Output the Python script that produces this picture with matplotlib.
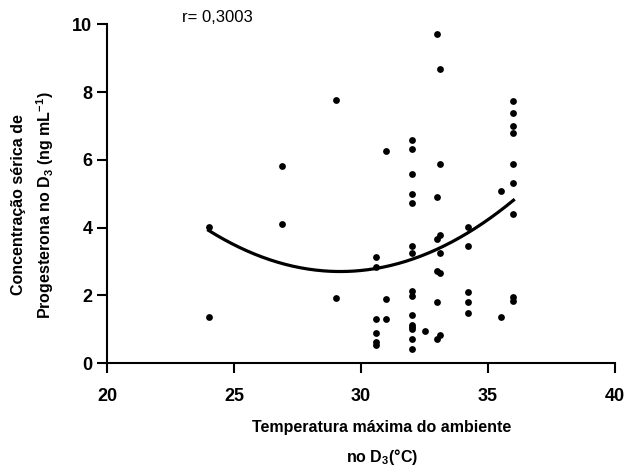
import numpy as np
import matplotlib
matplotlib.use("Agg")
import matplotlib.pyplot as plt

plt.rcParams['font.family'] = ['Liberation Sans', 'DejaVu Sans']
plt.rcParams['mathtext.fontset'] = 'custom'
plt.rcParams['mathtext.rm'] = 'Liberation Sans:bold'
plt.rcParams['mathtext.it'] = 'Liberation Sans:bold'
plt.rcParams['mathtext.bf'] = 'Liberation Sans:bold'

# temperatura maxima (°C) e progesterona (ng/mL)
temp_max = [24.0, 24.0,
            26.9, 26.9,
            29.0, 29.0,
            30.6, 30.6, 30.6, 30.6, 30.6, 30.6,
            31.0, 31.0, 31.0,
            32.0, 32.0, 32.0, 32.0, 32.0, 32.0, 32.0, 32.0,
            32.0, 32.0, 32.0, 32.0, 32.0, 32.0, 32.0,
            32.5,
            33.0, 33.0, 33.0, 33.0, 33.0, 33.0,
            33.1, 33.1, 33.1, 33.1, 33.1, 33.1,
            34.2, 34.2, 34.2, 34.2, 34.2,
            35.5, 35.5,
            36.0, 36.0, 36.0, 36.0, 36.0, 36.0, 36.0, 36.0, 36.0]
progesterona = [4.02, 1.37,
                5.83, 4.11,
                7.77, 1.92,
                3.15, 2.85, 1.32, 0.88, 0.62, 0.55,
                6.26, 1.90, 1.32,
                6.59, 6.31, 5.58, 4.99, 4.72, 3.47, 3.24, 2.14,
                1.99, 1.42, 1.14, 1.06, 1.00, 0.73, 0.41,
                0.95,
                9.72, 4.91, 3.66, 2.73, 1.80, 0.73,
                8.67, 5.88, 3.78, 3.24, 2.67, 0.84,
                4.01, 3.47, 2.11, 1.80, 1.49,
                5.08, 1.36,
                7.75, 7.38, 6.99, 6.78, 5.89, 5.33, 4.40, 1.95, 1.85]

x = np.array(temp_max)
y = np.array(progesterona)

# ajuste quadratico
coef = np.polyfit(x, y, 2)
xs = np.linspace(x.min(), x.max(), 200)
ys = np.polyval(coef, xs)

fig = plt.figure(figsize=(6.27, 4.66), dpi=100)
ax = fig.add_axes([0.1707, 0.2204, 0.8103, 0.7275])

ax.scatter(x, y, s=24, color='black', zorder=3, linewidths=0)
ax.plot(xs, ys, color='black', lw=2.3)

ax.set_xlim(20, 40)
ax.set_ylim(0, 10)
ax.set_xticks([20, 25, 30, 35, 40])
ax.set_yticks([0, 2, 4, 6, 8, 10])

for s in ['top', 'right']:
    ax.spines[s].set_visible(False)
for s in ['left', 'bottom']:
    ax.spines[s].set_linewidth(1.5)
ax.tick_params(width=1.5, length=7, labelsize=13)
ax.tick_params(axis='x', pad=11)
for lab in ax.get_xticklabels() + ax.get_yticklabels():
    lab.set_fontweight('bold')

ax.set_xlabel('Temperatura máxima do ambiente\nno D$_3$(°C)', fontsize=11.5,
              fontweight='bold', linespacing=1.8)
ax.xaxis.set_label_coords(0.541, -0.168, transform=ax.transAxes)
ax.xaxis.label.set_va('top')

ax.set_ylabel('Concentração sérica de\nProgesterona no D$_3$ (ng mL$^{-1}$)',
              fontsize=11.5, fontweight='bold', linespacing=1.5)
ax.yaxis.set_label_coords(-0.145, 0.467, transform=ax.transAxes)
ax.yaxis.label.set_va('center')

fig.text(0.29, 0.962, 'r= 0,3003', fontsize=12, va='center', ha='left')

plt.savefig('out.png', dpi=100)
